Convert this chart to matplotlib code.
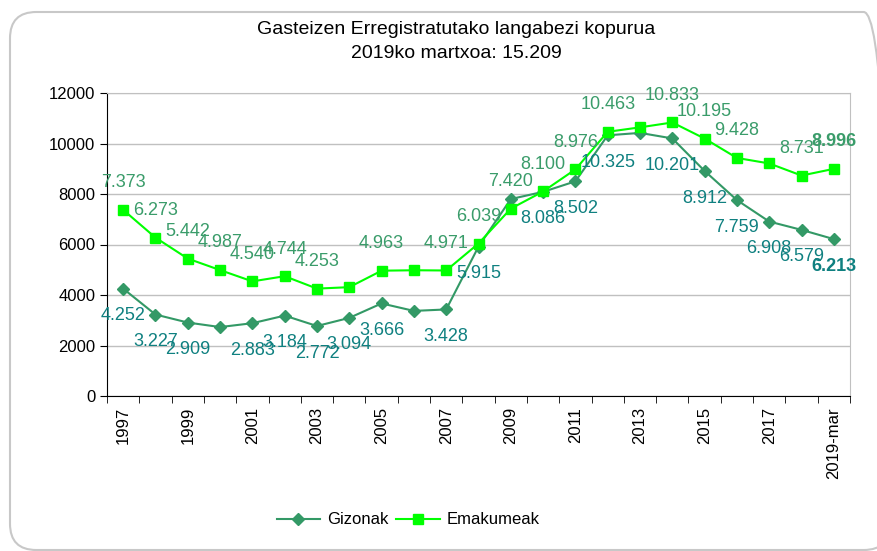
import matplotlib.pyplot as plt
from matplotlib.patches import FancyBboxPatch

plt.rcParams['font.family'] = ['Liberation Sans', 'DejaVu Sans']

years = ['1997', '1998', '1999', '2000', '2001', '2002', '2003', '2004', '2005',
         '2006', '2007', '2008', '2009', '2010', '2011', '2012', '2013', '2014',
         '2015', '2016', '2017', '2018', '2019-mar']
gizonak = [4252, 3227, 2909, 2730, 2883, 3184, 2772, 3094, 3666, 3370, 3428,
           5915, 7800, 8086, 8502, 10325, 10420, 10201, 8912, 7759, 6908, 6579, 6213]
emakumeak = [7373, 6273, 5442, 4987, 4540, 4744, 4253, 4310, 4963, 4980, 4971,
             6039, 7420, 8100, 8976, 10463, 10640, 10833, 10195, 9428, 9210, 8731, 8996]
# years whose value is written on the chart
giz_labelled = [0, 1, 2, 4, 5, 6, 7, 8, 10, 11, 13, 14, 15, 17, 18, 19, 20, 21, 22]
ema_labelled = [0, 1, 2, 3, 4, 5, 6, 8, 10, 11, 12, 13, 14, 15, 17, 18, 19, 21, 22]

title1 = 'Gasteizen Erregistratutako langabezi kopurua'
title2 = '2019ko martxoa: 15.209'


def fmt(v):
    return f'{v:,}'.replace(',', '.')


fig = plt.figure(figsize=(8.77, 5.51), dpi=100)
ax = fig.add_axes([107 / 877, 1 - 396 / 551, 743 / 877, 303 / 551])

# rounded chart border, running off the right and bottom edges
frame = FancyBboxPatch((10 / 877, 1 / 551), 880 / 877, 538 / 551,
                       boxstyle='round,pad=0,rounding_size=0.03',
                       transform=fig.transFigure, fc='none', ec='#c8c8c8', lw=1.5,
                       mutation_aspect=877 / 551)
fig.patches.append(frame)

x = list(range(len(years)))
ax.plot(x, gizonak, color='#339966', lw=1.5, marker='D', ms=6.5, label='Gizonak')
ax.plot(x, emakumeak, color='#00ff00', lw=1.5, marker='s', ms=7, label='Emakumeak')

last = len(years) - 1
for i in giz_labelled:
    ax.annotate(fmt(gizonak[i]), (i, gizonak[i]), xytext=(0, -19.5),
                textcoords='offset points', ha='center', va='center',
                fontsize=13, color='#0f8080',
                fontweight='bold' if i == last else 'normal')
for i in ema_labelled:
    ax.annotate(fmt(emakumeak[i]), (i, emakumeak[i]), xytext=(0, 19.5),
                textcoords='offset points', ha='center', va='center',
                fontsize=13, color='#3a9c6a',
                fontweight='bold' if i == last else 'normal')

ax.set_xlim(-0.5, len(years) - 0.5)
ax.set_ylim(0, 12000)
ax.set_yticks(range(0, 12001, 2000))
ax.set_xticks(x[::2])
ax.set_xticklabels(years[::2], rotation=90)
ax.set_xticks([i - 0.5 for i in range(len(years) + 1)], minor=True)
ax.tick_params(axis='x', which='major', length=0, pad=8, labelsize=12)
ax.tick_params(axis='x', which='minor', length=5, direction='out')
ax.tick_params(axis='y', length=5, direction='out', labelsize=12)

ax.grid(axis='y', color='#c0c0c0', lw=1)
ax.set_axisbelow(True)
for s in ['top', 'right']:
    ax.spines[s].set_color('#c0c0c0')
ax.spines['left'].set_color('black')
ax.spines['bottom'].set_color('black')

fig.text(456 / 877, 1 - 30 / 551, title1, ha='center', va='center', fontsize=14)
fig.text(456 / 877, 1 - 54 / 551, title2, ha='center', va='center', fontsize=14)

fig.legend(loc='center', bbox_to_anchor=(408 / 877, 1 - 520 / 551), ncol=2,
           frameon=False, fontsize=12, handlelength=2.6, handletextpad=0.4,
           columnspacing=0.5)

fig.savefig('out.png', dpi=100)
